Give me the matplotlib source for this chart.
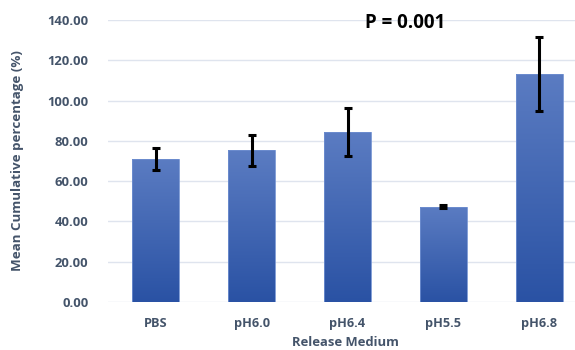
import matplotlib
matplotlib.use("Agg")
import matplotlib.pyplot as plt
import numpy as np
from matplotlib.colors import LinearSegmentedColormap

categories = ["PBS", "pH6.0", "pH6.4", "pH5.5", "pH6.8"]
means = [71.1, 75.3, 84.3, 47.3, 113.2]
errors = [5.6, 7.7, 11.8, 0.7, 18.3]
y_ticks = [0, 20, 40, 60, 80, 100, 120, 140]

plt.rcParams['font.family'] = ['Open Sans', 'DejaVu Sans']
txt = '#44546a'

fig = plt.figure(figsize=(5.75, 3.5), dpi=100)
W, H = 575, 350
ax = fig.add_axes([108 / W, (H - 302) / H, 479 / W, (302 - 20) / H])

x = np.arange(len(categories))
bars = ax.bar(x, means, width=0.49, color='none', edgecolor='#6f8fd0', linewidth=0.6, zorder=2)
cmap = LinearSegmentedColormap.from_list('g', ['#5b7cc2', '#2a52a4'])
grad = np.linspace(0, 1, 256).reshape(-1, 1)
for b in bars:
    x0, y0 = b.get_x(), b.get_y()
    w, h = b.get_width(), b.get_height()
    im = ax.imshow(grad, cmap=cmap, aspect='auto', extent=[x0, x0 + w, y0, y0 + h],
                   origin='upper', zorder=1.5, interpolation='bicubic')
    im.set_clip_path(b)

ax.errorbar(x, means, yerr=errors, fmt='none', ecolor='black', elinewidth=2.2,
            capsize=3.2, capthick=2.2, zorder=3)

ax.set_xlim(-0.5, len(categories) - 0.5)
ax.set_ylim(0, 140)
ax.set_yticks(y_ticks)
ax.set_yticklabels([f"{v:.2f}" for v in y_ticks], fontsize=9.4, fontweight='bold', color=txt)
ax.set_xticks(x)
ax.set_xticklabels(categories, fontsize=9.2, fontweight='bold', color=txt)
ax.tick_params(length=0, pad=11, axis='x')
ax.tick_params(length=0, pad=14, axis='y')
ax.grid(axis='y', color='#dfe4ee', linewidth=1, zorder=0)
ax.set_axisbelow(True)
for s in ax.spines.values():
    s.set_visible(False)

fig.text(18 / W, 1 - 161 / H, "Mean Cumulative percentage (%)", rotation=90, ha='center', va='center',
         fontsize=9.6, fontweight='bold', color=txt)
fig.text(345 / W, 1 - 342 / H, "Release Medium", ha='center', va='center',
         fontsize=9.4, fontweight='bold', color=txt)
fig.text(405 / W, 1 - 23 / H, "P = 0.001", ha='center', va='center',
         fontsize=13.5, fontweight='bold', color='black')

fig.savefig("out.png", dpi=100)
